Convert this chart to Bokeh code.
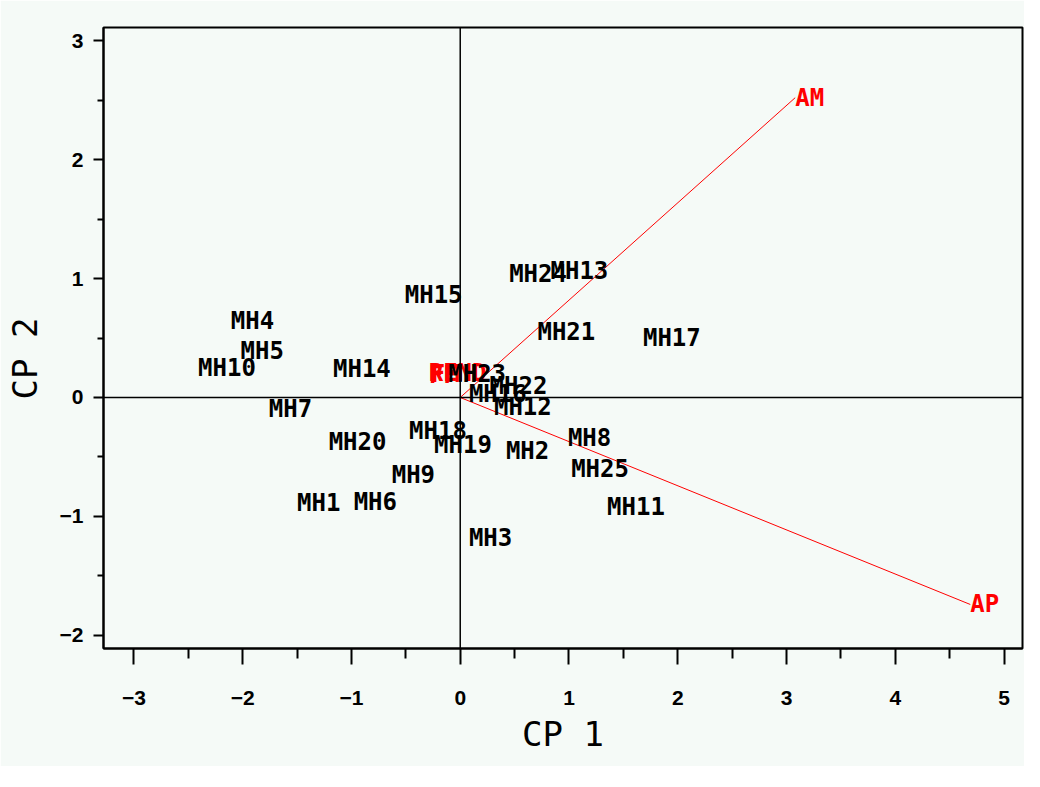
from bokeh.plotting import figure
from bokeh.models import ColumnDataSource, Span, Range1d, FixedTicker
from bokeh.core.properties import value
from bokeh.embed import file_html
from bokeh.resources import INLINE

# observation labels (scores on CP1 / CP2)
obs_names = ["MH1", "MH2", "MH3", "MH4", "MH5", "MH6", "MH7", "MH8", "MH9", "MH10",
             "MH11", "MH12", "MH13", "MH14", "MH15", "MH16", "MH17", "MH18", "MH19", "MH20",
             "MH21", "MH22", "MH23", "MH24", "MH25"]
obs_cp1 = [-1.50, 0.42, 0.08, -2.11, -2.02, -0.98, -1.76, 0.99, -0.63, -2.41,
           1.35, 0.31, 0.83, -1.17, -0.51, 0.08, 1.68, -0.47, -0.24, -1.21,
           0.71, 0.27, -0.11, 0.45, 1.02]
obs_cp2 = [-0.89, -0.45, -1.18, 0.64, 0.39, -0.88, -0.10, -0.34, -0.65, 0.25,
           -0.92, -0.08, 1.06, 0.24, 0.86, 0.03, 0.50, -0.28, -0.40, -0.37,
           0.55, 0.10, 0.20, 1.04, -0.60]

# variable vectors
var_names = ["AM", "AP"]
var_cp1 = [3.08, 4.69]
var_cp2 = [2.52, -1.74]

# short variable vectors clustered near the origin (labels only)
small_var_names = ["REND", "FF", "FM"]
small_var_cp1 = [-0.29, -0.29, -0.27]
small_var_cp2 = [0.21, 0.19, 0.20]

x_ticks = [-3, -2, -1, 0, 1, 2, 3, 4, 5]
y_ticks = [-2, -1, 0, 1, 2, 3]

BG = "#f5faf7"

p = figure(width=1024, height=766, output_backend="svg", toolbar_location=None,
           x_range=Range1d(-3.28, 5.17), y_range=Range1d(-2.11, 3.11),
           min_border_left=103, min_border_top=27, min_border_right=2, min_border_bottom=118)
p.background_fill_color = BG
p.border_fill_color = BG
p.outline_line_color = "black"
p.outline_line_width = 2
p.xgrid.visible = False
p.ygrid.visible = False

p.xaxis.ticker = FixedTicker(ticks=x_ticks, minor_ticks=[t + 0.5 for t in x_ticks[:-1]])
p.yaxis.ticker = FixedTicker(ticks=y_ticks, minor_ticks=[t + 0.5 for t in y_ticks[:-1]])

for ax in (p.xaxis[0], p.yaxis[0]):
    ax.axis_line_color = "black"
    ax.axis_line_width = 2
    ax.major_tick_line_color = "black"
    ax.minor_tick_line_color = "black"
    ax.major_tick_line_width = 2
    ax.minor_tick_line_width = 2
    ax.major_tick_in = 0
    ax.minor_tick_in = 0
    ax.major_label_text_font = "Liberation Sans"
    ax.major_label_text_font_style = "bold"
    ax.major_label_text_font_size = "21px"
    ax.major_label_text_color = "black"
    ax.axis_label_text_font = "DejaVu Sans Mono"
    ax.axis_label_text_font_style = "normal"
    ax.axis_label_text_font_size = "34px"
    ax.axis_label_text_color = "black"

p.xaxis.major_tick_out = 16
p.xaxis.minor_tick_out = 10
p.xaxis.major_label_standoff = 26
p.xaxis.axis_label = "CP 1"
p.xaxis.axis_label_standoff = 6

p.yaxis.major_tick_out = 10
p.yaxis.minor_tick_out = 6
p.yaxis.major_label_standoff = 10
p.yaxis.axis_label = "CP 2\u00a0\u00a0"
p.yaxis.axis_label_standoff = 12

p.add_layout(Span(location=0, dimension="width", line_color="black", line_width=1.5))
p.add_layout(Span(location=0, dimension="height", line_color="black", line_width=1.5))

vsrc = ColumnDataSource(dict(x0=[0] * len(var_names), y0=[0] * len(var_names),
                             x1=var_cp1, y1=var_cp2, name=var_names))
p.segment(x0="x0", y0="y0", x1="x1", y1="y1", source=vsrc, line_color="#ff0000", line_width=1)
p.text(x="x1", y="y1", text="name", source=vsrc, text_color="#ff0000",
       text_font=value("DejaVu Sans Mono"), text_font_style="bold", text_font_size="24px",
       text_align="left", text_baseline="middle")

ssrc = ColumnDataSource(dict(x=small_var_cp1, y=small_var_cp2, name=small_var_names))
p.text(x="x", y="y", text="name", source=ssrc, text_color="#ff0000",
       text_font=value("DejaVu Sans Mono"), text_font_style="bold", text_font_size="24px",
       text_align="left", text_baseline="middle")

osrc = ColumnDataSource(dict(x=obs_cp1, y=obs_cp2, name=obs_names))
p.text(x="x", y="y", text="name", source=osrc, text_color="black",
       text_font=value("DejaVu Sans Mono"), text_font_style="bold", text_font_size="24px",
       text_align="left", text_baseline="middle")

open("out.html", "w").write(file_html(p, INLINE))
